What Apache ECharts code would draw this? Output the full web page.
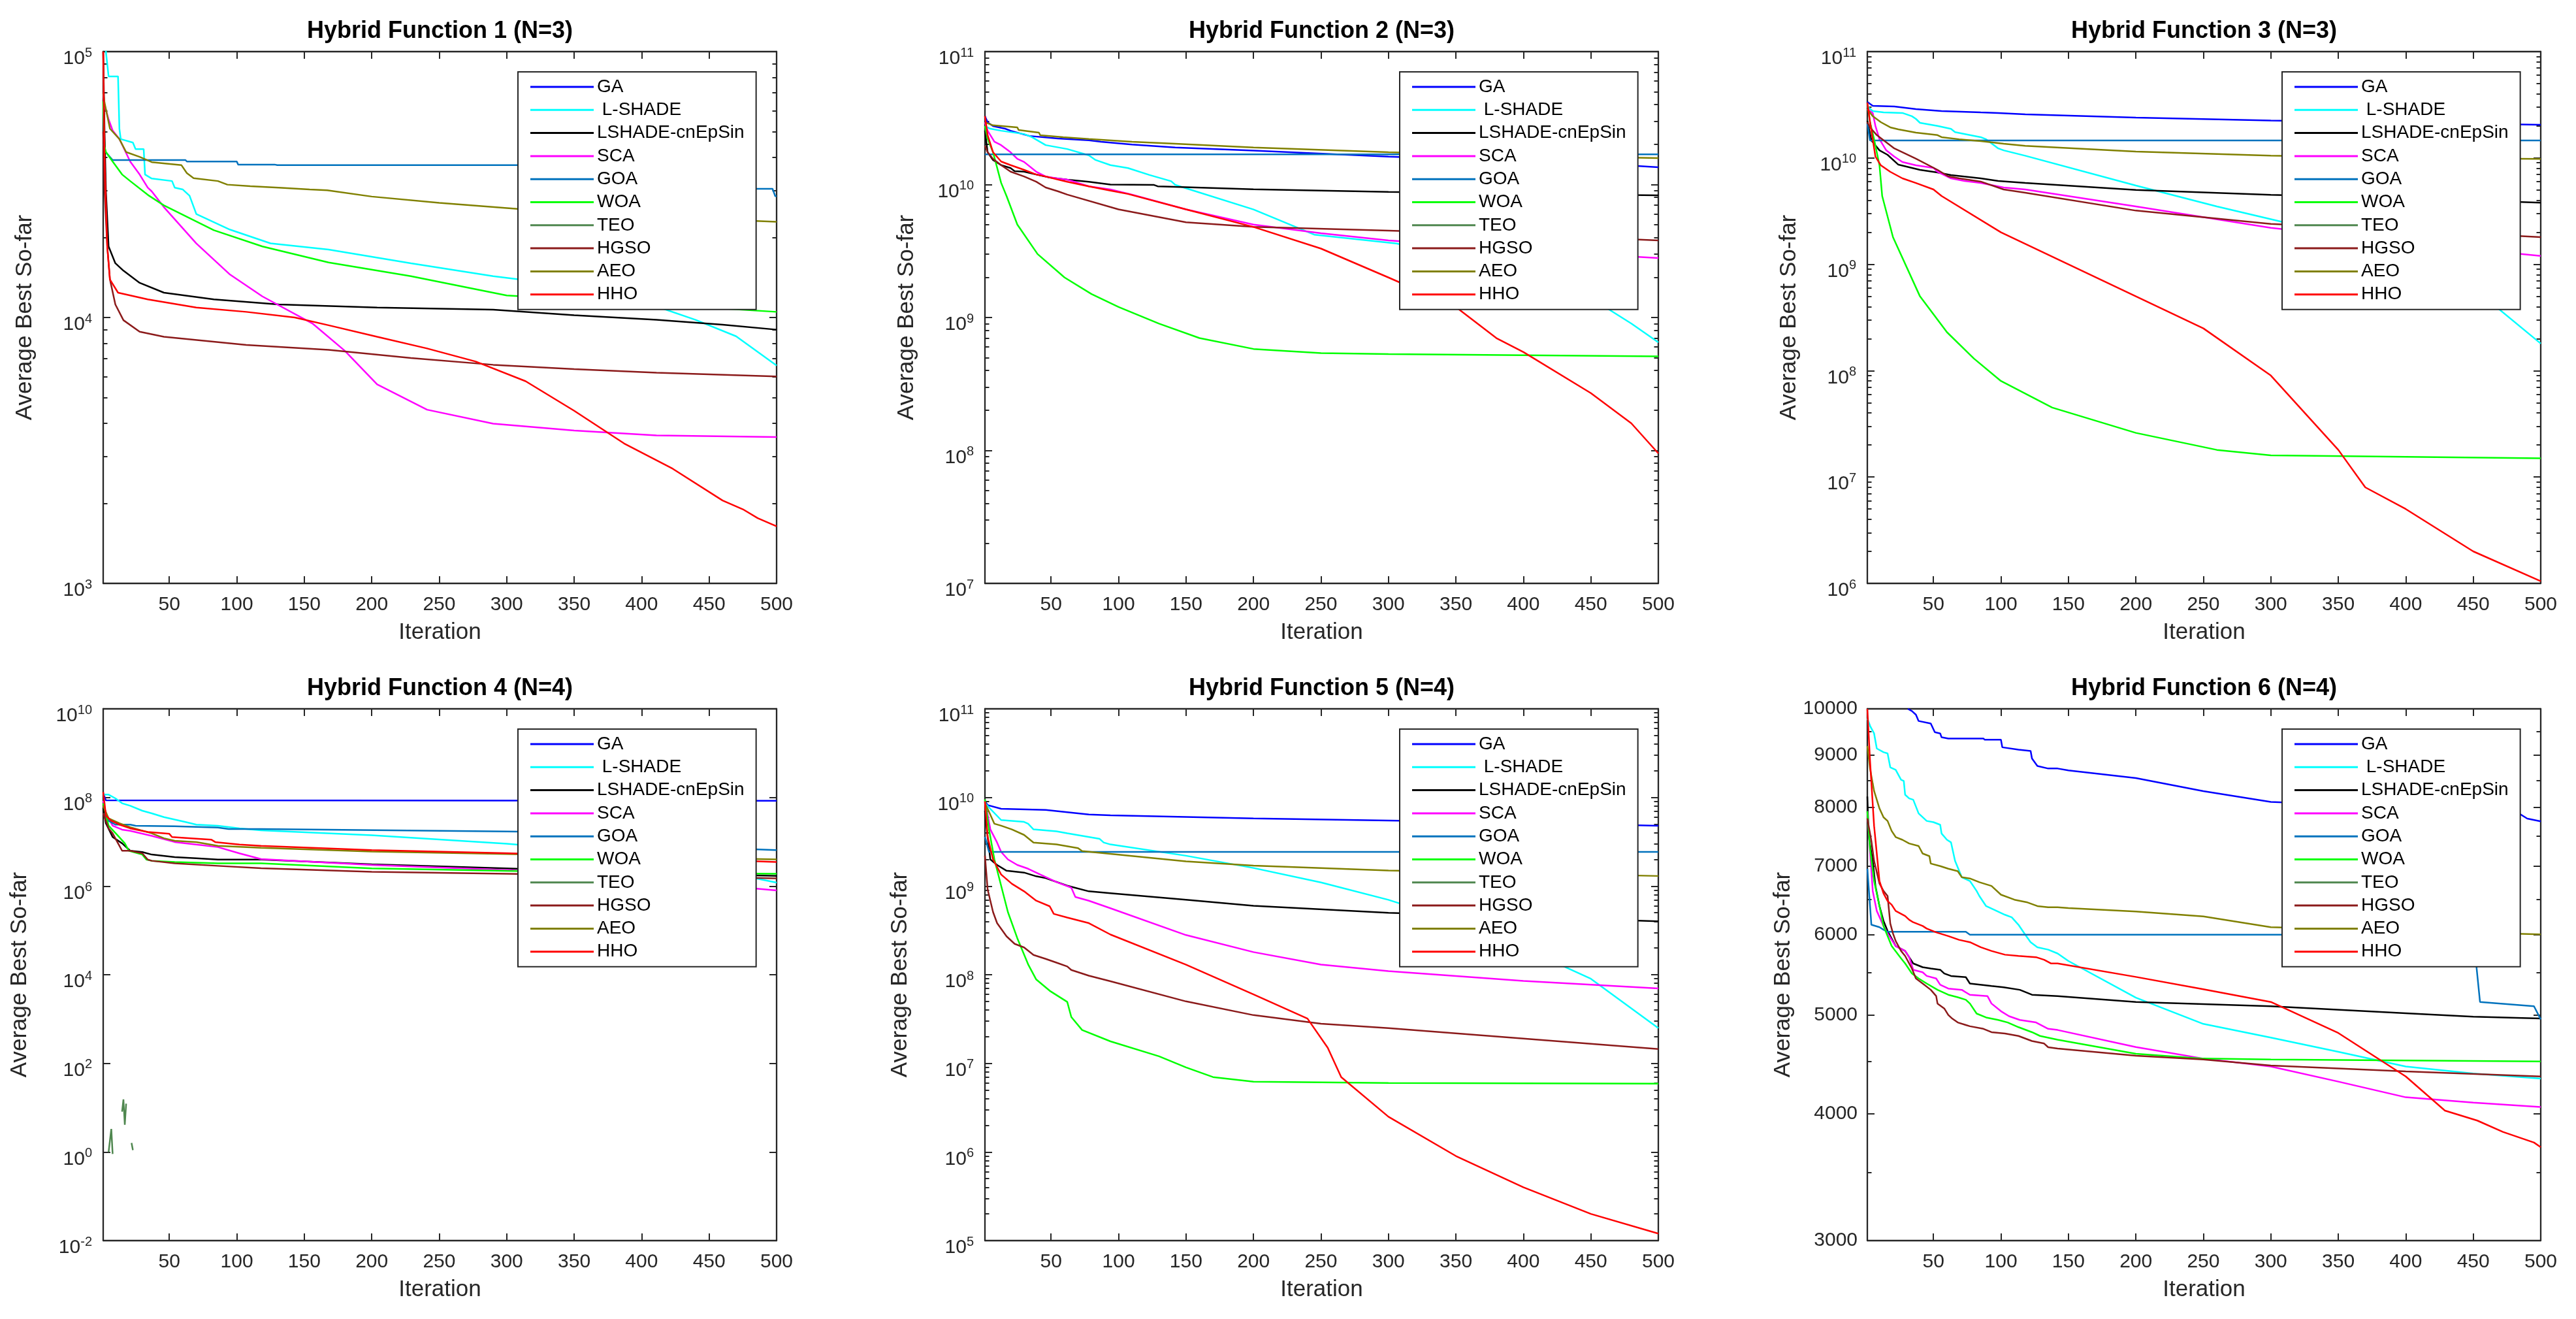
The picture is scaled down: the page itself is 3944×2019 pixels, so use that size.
<!DOCTYPE html>
<html><head><meta charset="utf-8">
<script src="https://cdn.jsdelivr.net/npm/echarts@6/dist/echarts.min.js"></script>
<style>html,body{margin:0;padding:0;background:#fff}#c{width:3944px;height:2019px}</style>
</head><body><div id="c"></div>
<script>
// ---------------- DATA ----------------
const seriesNames = ['GA', ' L-SHADE', 'LSHADE-cnEpSin', 'SCA', 'GOA', 'WOA', 'TEO', 'HGSO', 'AEO', 'HHO'];
const panelTitles = ['Hybrid Function 1 (N=3)', 'Hybrid Function 2 (N=3)', 'Hybrid Function 3 (N=3)',
                     'Hybrid Function 4 (N=4)', 'Hybrid Function 5 (N=4)', 'Hybrid Function 6 (N=4)'];
const xTicks = [50, 100, 150, 200, 250, 300, 350, 400, 450, 500];
const xName = 'Iteration';
const yName = 'Average Best So-far';
// y tick exponents (log panels) / plain tick values (panel 6)
const h1Exp = [3, 4, 5];
const h2Exp = [7, 8, 9, 10, 11];
const h3Exp = [6, 7, 8, 9, 10, 11];
const h4Exp = [-2, 0, 2, 4, 6, 8, 10];
const h5Exp = [5, 6, 7, 8, 9, 10, 11];
const h6Labels = [3000, 4000, 5000, 6000, 7000, 8000, 9000, 10000];
const h6Minor = [3500, 4500, 5500, 6500, 7500, 8500, 9500];

// Panel 1
const h1_GA = [];
const h1_LSHADE = [[1,1.3e5],[3,1e5],[5,8.07e4],[12,8.07e4],[13,5.13e4],[14,4.69e4],[23,4.55e4],[25,4.3e4],[31,4.3e4],[32,3.45e4],[37,3.33e4],[52,3.26e4],[54,3.08e4],[60,3.03e4],[65,2.87e4],[70,2.45e4],[95,2.14e4],[125,1.9e4],[168,1.8e4],[229,1.6e4],[290,1.43e4],[330,1.35e4],[400,1.15e4],[440,9.8e3],[470,8.5e3],[500,6.6e3]];
const h1_LSHADEcn = [[1,1e5],[2,5e4],[3,3e4],[5,1.85e4],[10,1.6e4],[16,1.5e4],[28,1.35e4],[46,1.24e4],[83,1.17e4],[131,1.12e4],[204,1.09e4],[290,1.07e4],[350,1.02e4],[411,9.8e3],[460,9.4e3],[500,9.0e3]];
const h1_SCA = [[1,7e4],[2,6.3e4],[5,5.56e4],[8,5.05e4],[13,4.69e4],[21,3.86e4],[28,3.45e4],[34,3.08e4],[37,2.98e4],[46,2.6e4],[70,1.9e4],[95,1.45e4],[119,1.2e4],[156,9.5e3],[180,7.5e3],[204,5.6e3],[241,4.5e3],[290,3.99e3],[350,3.76e3],[411,3.6e3],[500,3.55e3]];
const h1_GOA = [[1,4.5e4],[2,4.33e4],[3,4.18e4],[8,3.91e4],[62,3.91e4],[63,3.86e4],[100,3.86e4],[101,3.76e4],[128,3.76e4],[130,3.74e4],[420,3.74e4],[421,3.05e4],[497,3.05e4],[499,2.86e4],[500,2.86e4]];
const h1_WOA = [[1,6.5e4],[2,4.4e4],[3,4.19e4],[8,3.86e4],[15,3.45e4],[21,3.26e4],[35,2.87e4],[46,2.64e4],[83,2.13e4],[119,1.85e4],[168,1.61e4],[229,1.43e4],[300,1.21e4],[350,1.17e4],[411,1.12e4],[500,1.05e4]];
const h1_TEO = [];
const h1_HGSO = [[1,5e4],[2,3e4],[4,1.85e4],[6,1.39e4],[10,1.12e4],[16,9.77e3],[28,8.84e3],[46,8.46e3],[107,7.88e3],[168,7.56e3],[229,7.04e3],[290,6.64e3],[350,6.4e3],[411,6.2e3],[500,6.0e3]];
const h1_AEO = [[1,7e4],[2,6.43e4],[6,5.13e4],[13,4.69e4],[18,4.19e4],[28,4.02e4],[37,3.84e4],[59,3.74e4],[63,3.49e4],[68,3.34e4],[86,3.26e4],[93,3.16e4],[110,3.12e4],[131,3.08e4],[154,3.03e4],[167,3.01e4],[200,2.85e4],[250,2.7e4],[308,2.56e4],[400,2.4e4],[500,2.29e4]];
const h1_HHO = [[1,1e5],[2,4e4],[4,1.85e4],[6,1.39e4],[12,1.24e4],[34,1.17e4],[70,1.09e4],[107,1.05e4],[143,1.0e4],[168,9.35e3],[204,8.46e3],[241,7.65e3],[277,6.83e3],[314,5.76e3],[350,4.46e3],[387,3.36e3],[423,2.7e3],[460,2.05e3],[475,1.9e3],[486,1.76e3],[500,1.64e3]];

// Panel 2
const h2_GA = [[1,3.27e10],[3,2.94e10],[7,2.75e10],[16,2.63e10],[20,2.54e10],[34,2.32e10],[55,2.22e10],[78,2.15e10],[87,2.1e10],[110,2.0e10],[142,1.9e10],[200,1.8e10],[300,1.62e10],[400,1.5e10],[450,1.45e10],[500,1.35e10]];
const h2_LSHADE = [[1,2.75e10],[5,2.63e10],[13,2.54e10],[30,2.4e10],[36,2.27e10],[46,1.98e10],[62,1.85e10],[78,1.66e10],[83,1.53e10],[94,1.4e10],[107,1.33e10],[123,1.18e10],[139,1.06e10],[142,9.95e9],[200,6.5e9],[245,4.2e9],[306,3.6e9],[400,2.2e9],[450,1.4e9],[480,9e8],[500,6.5e8]];
const h2_LSHADEcn = [[1,2.54e10],[3,1.75e10],[7,1.53e10],[13,1.4e10],[20,1.33e10],[23,1.26e10],[30,1.25e10],[39,1.19e10],[49,1.13e10],[62,1.09e10],[78,1.05e10],[94,1.0e10],[126,9.95e9],[129,9.7e9],[142,9.6e9],[200,9.2e9],[300,8.8e9],[400,8.5e9],[500,8.3e9]];
const h2_SCA = [[1,2.94e10],[3,2.54e10],[8,2.1e10],[13,1.98e10],[20,1.75e10],[25,1.56e10],[30,1.48e10],[39,1.25e10],[46,1.15e10],[55,1.11e10],[62,1.09e10],[78,9.7e9],[94,9.2e9],[110,8.4e9],[150,6.5e9],[200,5e9],[250,4.3e9],[300,3.8e9],[350,3.5e9],[400,3.2e9],[500,2.8e9]];
const h2_GOA = [[1,1.69e10],[500,1.69e10]];
const h2_WOA = [[1,2.75e10],[3,2.2e10],[7,1.75e10],[13,1.03e10],[17,8.2e9],[25,5e9],[40,3e9],[60,2e9],[80,1.5e9],[100,1.2e9],[130,9e8],[160,7e8],[200,5.8e8],[250,5.4e8],[300,5.3e8],[400,5.2e8],[500,5.1e8]];
const h2_TEO = [];
const h2_HGSO = [[1,1.96e10],[3,1.75e10],[7,1.56e10],[13,1.4e10],[20,1.25e10],[30,1.15e10],[39,1.05e10],[46,9.5e9],[55,8.9e9],[62,8.4e9],[100,6.5e9],[150,5.2e9],[200,4.8e9],[300,4.5e9],[400,4.2e9],[500,3.8e9]];
const h2_AEO = [[1,2.94e10],[7,2.79e10],[25,2.69e10],[26,2.57e10],[41,2.46e10],[42,2.35e10],[59,2.27e10],[78,2.2e10],[110,2.1e10],[142,2.03e10],[200,1.9e10],[300,1.75e10],[400,1.65e10],[500,1.58e10]];
const h2_HHO = [[1,3.27e10],[3,2.35e10],[7,1.75e10],[13,1.49e10],[20,1.4e10],[30,1.29e10],[39,1.19e10],[46,1.15e10],[55,1.09e10],[62,1.05e10],[78,9.7e9],[94,9e9],[107,8.5e9],[150,6.5e9],[200,4.8e9],[250,3.3e9],[300,2e9],[350,1.2e9],[380,7e8],[400,5.5e8],[450,2.7e8],[480,1.6e8],[500,9.5e7]];

// Panel 3
const h3_GA = [[1,3.37e10],[5,3.09e10],[21,3.05e10],[37,2.88e10],[56,2.76e10],[85,2.68e10],[98,2.65e10],[118,2.57e10],[200,2.4e10],[300,2.25e10],[400,2.15e10],[500,2.05e10]];
const h3_LSHADE = [[1,3.05e10],[5,2.76e10],[13,2.68e10],[27,2.65e10],[34,2.47e10],[37,2.33e10],[40,2.14e10],[53,2.0e10],[63,1.88e10],[66,1.75e10],[85,1.57e10],[89,1.5e10],[98,1.23e10],[102,1.18e10],[118,1.05e10],[200,5.5e9],[260,3.5e9],[321,2.3e9],[400,1.2e9],[450,6e8],[500,1.8e8]];
const h3_LSHADEcn = [[1,2.23e10],[4,1.46e10],[10,1.18e10],[16,1.07e10],[24,8.65e9],[40,7.73e9],[53,7.31e9],[63,6.9e9],[85,6.43e9],[98,6.08e9],[118,5.82e9],[200,5e9],[300,4.5e9],[400,4.2e9],[500,3.8e9]];
const h3_SCA = [[1,2.88e10],[5,2.65e10],[7,2e10],[10,1.5e10],[15,1.18e10],[21,1.03e10],[27,9.16e9],[37,8.53e9],[50,8.07e9],[53,7.41e9],[63,6.43e9],[73,6.08e9],[85,5.82e9],[102,5.27e9],[118,5.06e9],[200,3.5e9],[300,2.2e9],[400,1.6e9],[500,1.2e9]];
const h3_GOA = [[1,2.1e10],[3,1.46e10],[500,1.46e10]];
const h3_WOA = [[1,3.32e10],[3,2.17e10],[6,1.5e10],[10,8.53e9],[12,4.39e9],[20,1.8e9],[40,5e8],[60,2.3e8],[80,1.3e8],[100,8e7],[138,4.5e7],[200,2.6e7],[260,1.8e7],[300,1.6e7],[400,1.55e7],[500,1.5e7]];
const h3_TEO = [];
const h3_HGSO = [[1,2.17e10],[3,1.94e10],[8,1.64e10],[21,1.23e10],[37,9.84e9],[53,7.73e9],[61,6.71e9],[69,6.43e9],[85,6e9],[102,5.06e9],[118,4.71e9],[200,3.2e9],[300,2.4e9],[400,2.1e9],[500,1.8e9]];
const h3_AEO = [[1,2.88e10],[5,2.47e10],[11,2.17e10],[18,1.94e10],[24,1.86e10],[37,1.73e10],[53,1.64e10],[56,1.57e10],[69,1.5e10],[85,1.44e10],[102,1.36e10],[118,1.3e10],[200,1.15e10],[300,1.05e10],[400,1.0e10],[500,9.8e9]];
const h3_HHO = [[1,3.32e10],[3,2.17e10],[5,1.5e10],[7,1.03e10],[11,8.53e9],[18,7.41e9],[27,6.43e9],[37,5.82e9],[50,5.06e9],[56,4.39e9],[100,2e9],[150,1.0e9],[200,5e8],[250,2.5e8],[300,9e7],[350,1.8e7],[370,8e6],[400,5e6],[450,2e6],[500,1.05e6]];

// Panel 4
const h4_GA = [[1,1.25e8],[3,8.6e7],[500,8.4e7]];
const h4_LSHADE = [[1,1.16e8],[5,1.16e8],[10,9.55e7],[15,7.38e7],[21,6.49e7],[30,5.01e7],[37,4.38e7],[46,3.61e7],[54,3.17e7],[62,2.79e7],[70,2.44e7],[86,2.3e7],[102,2e7],[118,1.81e7],[200,1.4e7],[300,9e6],[400,5e6],[500,1.2e6]];
const h4_LSHADEcn = [[1,5.69e7],[3,2.61e7],[8,1.28e7],[15,9.23e6],[21,6.27e6],[30,5.86e6],[37,5.14e6],[54,4.52e6],[70,4.24e6],[86,3.97e6],[118,3.97e6],[200,3.1e6],[300,2.5e6],[400,2e6],[500,1.7e6]];
const h4_SCA = [[1,8.4e7],[3,4.38e7],[8,2.3e7],[15,1.88e7],[21,1.77e7],[37,1.36e7],[54,9.86e6],[70,8.63e6],[86,7.59e6],[102,5.48e6],[118,4.06e6],[200,3e6],[300,2.3e6],[400,1.5e6],[500,8e5]];
const h4_GOA = [[1,4.38e7],[5,2.97e7],[10,2.44e7],[21,2.44e7],[25,2.3e7],[54,2.23e7],[86,2.09e7],[94,1.94e7],[118,1.94e7],[300,1.7e7],[450,1.5e7],[470,7e6],[500,6.5e6]];
const h4_WOA = [[1,7.38e7],[5,2.3e7],[12,1.36e7],[17,9.23e6],[20,6.27e6],[30,5.14e6],[33,3.97e6],[37,3.72e6],[54,3.48e6],[86,3.26e6],[118,3.26e6],[200,2.5e6],[300,2.2e6],[400,2e6],[500,1.9e6]];
const h4_TEO = [[5,1.0],[7,3.3],[8,0.9],[9,null],[15,8.1],[16,15.4],[17,4.1],[18,12.3],[19,null],[22,1.6],[23,1.1]];
const h4_HGSO = [[1,4.38e7],[5,2.01e7],[8,1.55e7],[12,9.23e6],[15,6.27e6],[21,6.27e6],[30,5.48e6],[34,3.97e6],[37,3.72e6],[54,3.26e6],[86,2.86e6],[118,2.52e6],[200,2.1e6],[300,1.9e6],[400,1.7e6],[500,1.5e6]];
const h4_AEO = [[1,6.49e7],[5,3.38e7],[13,2.61e7],[21,2.14e7],[37,1.55e7],[46,1.2e7],[54,1.05e7],[70,9.86e6],[86,8.09e6],[118,7.31e6],[200,6e6],[300,5.3e6],[400,4.6e6],[500,4e6]];
const h4_HHO = [[1,1.32e8],[2,7.38e7],[3,3.85e7],[7,2.97e7],[13,2.44e7],[21,2.01e7],[34,1.66e7],[50,1.51e7],[52,1.28e7],[66,1.2e7],[81,1.12e7],[84,9.86e6],[102,8.63e6],[118,8.09e6],[200,6.5e6],[300,5.5e6],[400,4.5e6],[500,3.5e6]];

// Panel 5
const h5_GA = [[1,9.0e9],[3,8.2e9],[13,7.45e9],[46,7.23e9],[78,6.43e9],[94,6.3e9],[200,5.8e9],[300,5.5e9],[400,5.2e9],[500,4.8e9]];
const h5_LSHADE = [[1,8.63e9],[5,7.45e9],[13,5.56e9],[30,5.3e9],[33,5.05e9],[37,4.36e9],[54,4.15e9],[62,3.95e9],[86,3.41e9],[89,3.1e9],[94,2.95e9],[150,2.2e9],[200,1.6e9],[250,1.1e9],[300,7e8],[350,4e8],[400,2e8],[450,9e7],[500,2.5e7]];
const h5_LSHADEcn = [[1,7.08e9],[3,3.59e9],[5,2e9],[10,1.73e9],[17,1.49e9],[30,1.42e9],[39,1.29e9],[46,1.23e9],[62,1.01e9],[78,8.73e8],[94,8.32e8],[150,7e8],[200,6e8],[300,5e8],[400,4.5e8],[500,4e8]];
const h5_SCA = [[1,9.04e9],[3,6.43e9],[5,4.36e9],[10,3.1e9],[13,2.43e9],[18,2e9],[25,1.73e9],[33,1.57e9],[42,1.35e9],[54,1.11e9],[65,9.6e8],[68,7.53e8],[78,6.84e8],[94,5.62e8],[150,2.8e8],[200,1.8e8],[250,1.3e8],[300,1.1e8],[400,8.5e7],[500,7e7]];
const h5_GOA = [[1,3.59e9],[4,2.43e9],[500,2.43e9]];
const h5_WOA = [[1,9.5e9],[4,4.36e9],[8,2e9],[13,1.01e9],[18,5.1e8],[25,2.58e8],[33,1.31e8],[39,8.83e7],[49,6.59e7],[62,4.93e7],[65,3.33e7],[73,2.38e7],[94,1.77e7],[130,1.2e7],[150,9e6],[170,7e6],[200,6.2e6],[300,6e6],[500,5.9e6]];
const h5_TEO = [];
const h5_HGSO = [[1,2.2e9],[3,9.16e8],[7,5.1e8],[10,3.82e8],[17,2.71e8],[23,2.23e8],[30,2.03e8],[37,1.67e8],[46,1.51e8],[54,1.37e8],[62,1.24e8],[65,1.13e8],[78,9.75e7],[94,8.43e7],[150,5e7],[200,3.5e7],[250,2.8e7],[300,2.5e7],[400,1.9e7],[500,1.45e7]];
const h5_AEO = [[1,8.63e9],[3,7.45e9],[8,5.05e9],[13,4.8e9],[21,4.36e9],[30,3.78e9],[37,3.1e9],[54,2.95e9],[70,2.68e9],[73,2.48e9],[94,2.31e9],[150,1.9e9],[200,1.7e9],[300,1.5e9],[400,1.4e9],[500,1.3e9]];
const h5_HHO = [[1,9.04e9],[3,3.59e9],[7,2e9],[13,1.35e9],[21,1.06e9],[30,8.73e8],[39,6.84e8],[49,5.92e8],[52,4.86e8],[62,4.42e8],[78,3.82e8],[94,2.84e8],[150,1.3e8],[200,6e7],[240,3.2e7],[255,1.5e7],[265,7e6],[300,2.5e6],[350,9e5],[400,4e5],[450,2e5],[500,1.2e5]];

// Panel 6
const h6_GA = [[31,10000],[34,9951],[37,9868],[39,9728],[48,9674],[51,9484],[55,9458],[56,9376],[61,9350],[87,9350],[88,9324],[100,9324],[101,9166],[113,9116],[122,9090],[123,8937],[127,8786],[135,8736],[142,8736],[150,8700],[200,8550],[250,8300],[300,8100],[400,8000],[480,7950],[490,7800],[500,7750]];
const h6_LSHADE = [[1,9784],[3,9622],[6,9458],[8,9141],[13,9065],[16,9039],[18,8760],[22,8710],[26,8517],[28,8493],[29,8232],[32,8164],[35,8140],[39,7891],[45,7758],[50,7737],[55,7691],[56,7540],[60,7434],[63,7391],[66,7087],[71,6830],[77,6772],[82,6620],[84,6546],[89,6398],[95,6345],[103,6273],[108,6237],[113,6133],[118,5997],[122,5896],[127,5829],[135,5797],[142,5747],[150,5650],[200,5200],[250,4900],[300,4750],[350,4600],[400,4450],[450,4380],[500,4330]];
const h6_LSHADEcn = [[1,8200],[2,7499],[5,7087],[7,6696],[10,6398],[13,6186],[16,6047],[19,5945],[22,5845],[29,5780],[32,5699],[35,5619],[42,5571],[48,5555],[55,5539],[58,5493],[63,5462],[74,5447],[77,5369],[93,5339],[102,5323],[114,5293],[123,5234],[142,5219],[200,5150],[300,5100],[400,5020],[450,4980],[500,4960]];
const h6_SCA = [[1,7933],[5,6620],[8,6328],[13,6116],[16,6013],[22,5845],[29,5780],[32,5699],[35,5539],[42,5508],[45,5462],[52,5431],[55,5354],[61,5308],[71,5293],[74,5263],[77,5234],[90,5219],[93,5131],[100,5043],[106,4986],[114,4944],[126,4916],[135,4846],[142,4833],[200,4650],[250,4530],[300,4450],[350,4300],[400,4150],[450,4100],[500,4060]];
const h6_GOA = [[1,6963],[4,6133],[10,6099],[13,6065],[16,6037],[74,6037],[77,5997],[450,5997],[455,5150],[495,5100],[500,4950]];
const h6_WOA = [[1,7933],[3,7290],[6,6772],[10,6398],[13,6116],[19,5845],[26,5683],[29,5619],[34,5493],[39,5431],[45,5369],[53,5293],[61,5234],[68,5205],[74,5175],[77,5131],[82,5016],[89,4972],[98,4944],[105,4916],[113,4864],[123,4809],[129,4768],[142,4727],[200,4580],[250,4530],[300,4520],[500,4500]];
const h6_TEO = [];
const h6_HGSO = [[1,7802],[4,7413],[6,7087],[10,6734],[13,6620],[16,6546],[18,6150],[20,6013],[22,5912],[26,5780],[29,5715],[34,5555],[37,5431],[42,5369],[48,5293],[52,5219],[53,5131],[58,5074],[61,5000],[64,4958],[68,4916],[74,4888],[77,4874],[87,4846],[93,4809],[103,4795],[113,4768],[123,4714],[132,4687],[135,4648],[142,4634],[200,4560],[250,4520],[300,4460],[400,4400],[500,4350]];
const h6_AEO = [[1,9193],[3,8736],[5,8444],[6,8303],[10,7980],[13,7823],[16,7758],[19,7585],[22,7480],[27,7434],[32,7372],[39,7330],[42,7206],[47,7164],[48,7044],[55,7004],[61,6963],[68,6924],[71,6830],[77,6811],[84,6754],[93,6696],[100,6565],[110,6491],[119,6455],[127,6398],[135,6380],[142,6380],[150,6370],[200,6320],[250,6250],[300,6100],[400,6050],[500,6000]];
const h6_HHO = [[1,10000],[3,8886],[6,7672],[10,6772],[13,6584],[16,6473],[19,6418],[22,6328],[29,6256],[32,6203],[35,6168],[42,6116],[45,6080],[52,6029],[61,5978],[69,5927],[77,5896],[85,5829],[93,5780],[103,5731],[113,5715],[126,5699],[132,5666],[137,5619],[142,5619],[200,5450],[250,5300],[300,5150],[350,4800],[400,4350],[429,4027],[453,3937],[472,3837],[495,3746],[500,3707]];

// ---------------- STYLE / LAYOUT ----------------
const seriesColors = ['#0000FF', '#00FFFF', '#000000', '#FF00FF', '#0072BD', '#00FF00', '#4F874F', '#8B1A1A', '#808000', '#FF0000'];
const FONT = '"Liberation Sans", Arial, Helvetica, sans-serif';
const AX = '#262626';
const gridLefts = [158, 1508, 2859];
const gridTops = [79, 1085];
const GW = 1031, GH = 814;
const TICK_FS = 30, NAME_FS = 35;

function decadeMinor(lo, hi) {
  const out = [];
  for (let n = lo; n < hi; n++) for (let k = 2; k <= 9; k++) out.push(Math.log10(k * Math.pow(10, n)));
  return out;
}
const log10 = v => Math.log10(v);

const panels = [
  { yMin: 1e3, yMax: 1e5, major: h1Exp, minor: decadeMinor(3, 5), exp: true, nameGap: 102,
    data: [h1_GA, h1_LSHADE, h1_LSHADEcn, h1_SCA, h1_GOA, h1_WOA, h1_TEO, h1_HGSO, h1_AEO, h1_HHO] },
  { yMin: 1e7, yMax: 1e11, major: h2Exp, minor: decadeMinor(7, 11), exp: true, nameGap: 102,
    data: [h2_GA, h2_LSHADE, h2_LSHADEcn, h2_SCA, h2_GOA, h2_WOA, h2_TEO, h2_HGSO, h2_AEO, h2_HHO] },
  { yMin: 1e6, yMax: 1e11, major: h3Exp, minor: decadeMinor(6, 11), exp: true, nameGap: 102,
    data: [h3_GA, h3_LSHADE, h3_LSHADEcn, h3_SCA, h3_GOA, h3_WOA, h3_TEO, h3_HGSO, h3_AEO, h3_HHO] },
  { yMin: 1e-2, yMax: 1e10, major: h4Exp, minor: [], exp: true, nameGap: 110,
    data: [h4_GA, h4_LSHADE, h4_LSHADEcn, h4_SCA, h4_GOA, h4_WOA, h4_TEO, h4_HGSO, h4_AEO, h4_HHO] },
  { yMin: 1e5, yMax: 1e11, major: h5Exp, minor: decadeMinor(5, 11), exp: true, nameGap: 112,
    data: [h5_GA, h5_LSHADE, h5_LSHADEcn, h5_SCA, h5_GOA, h5_WOA, h5_TEO, h5_HGSO, h5_AEO, h5_HHO] },
  { yMin: 3000, yMax: 10000, major: h6Labels.map(log10), minor: h6Minor.map(log10), exp: false, nameGap: 111,
    data: [h6_GA, h6_LSHADE, h6_LSHADEcn, h6_SCA, h6_GOA, h6_WOA, h6_TEO, h6_HGSO, h6_AEO, h6_HHO] }
];

const grids = [], xAxes = [], yAxes = [], series = [], titles = [], legends = [];
const axisLine = { show: true, onZero: false, lineStyle: { color: AX, width: 2.3 } };

panels.forEach((p, i) => {
  const gl = gridLefts[i % 3], gt = gridTops[Math.floor(i / 3)];
  grids.push({ left: gl, top: gt, width: GW, height: GH, containLabel: false, outerBoundsMode: 'none', show: false });
  titles.push({ text: panelTitles[i], left: gl + GW / 2, top: gt - 49, textAlign: 'center', padding: 0,
    textStyle: { fontFamily: FONT, fontSize: 36, fontWeight: 'bold', color: '#000', lineHeight: 36 } });
  legends.push({ data: seriesNames, orient: 'vertical', left: gl + 635, top: gt + 31,
    icon: 'rect', itemWidth: 97, itemHeight: 3, itemGap: 7.3, padding: [9, 18, 9, 19],
    backgroundColor: '#fff', borderColor: AX, borderWidth: 2, borderRadius: 0, selectedMode: false,
    textStyle: { fontFamily: FONT, fontSize: 28, lineHeight: 28, color: '#000' } });
  // x axes
  xAxes.push({ gridIndex: i, type: 'value', min: 1, max: 500, position: 'bottom', axisLine,
    axisTick: { show: true, inside: true, length: 11, customValues: xTicks, lineStyle: { color: AX, width: 2 } },
    axisLabel: { show: true, customValues: xTicks, margin: 18, fontSize: TICK_FS, fontFamily: FONT, color: AX },
    splitLine: { show: false }, name: xName, nameLocation: 'middle', nameGap: 58,
    nameTextStyle: { fontSize: NAME_FS, lineHeight: NAME_FS, fontFamily: FONT, color: AX } });
  xAxes.push({ gridIndex: i, type: 'value', min: 1, max: 500, position: 'top', axisLine,
    axisTick: { show: true, inside: true, length: 11, customValues: xTicks, lineStyle: { color: AX, width: 2 } },
    axisLabel: { show: false }, splitLine: { show: false } });
  // y axes: 0 = log data axis (hidden), 1 = left major, 2 = left minor, 3 = right major, 4 = right minor
  const lmin = Math.log10(p.yMin), lmax = Math.log10(p.yMax);
  yAxes.push({ gridIndex: i, type: 'log', logBase: 10, min: p.yMin, max: p.yMax, show: false, splitLine: { show: false } });
  const labelCfg = p.exp ? {
      show: true, customValues: p.major, margin: 17, padding: [18, 0, 0, 0],
      formatter: v => '{b|10}{s|' + Math.round(v) + '}',
      rich: { b: { fontSize: TICK_FS, lineHeight: 34, verticalAlign: 'bottom', fontFamily: FONT, color: AX },
              s: { fontSize: 20, lineHeight: 20, verticalAlign: 'top', fontFamily: FONT, color: AX } } }
    : { show: true, customValues: p.major, margin: 15, padding: [6, 0, 0, 0], fontSize: TICK_FS, fontFamily: FONT, color: AX,
        formatter: v => String(Math.round(Math.pow(10, v))) };
  yAxes.push({ gridIndex: i, type: 'value', min: lmin, max: lmax, position: 'left', axisLine,
    axisTick: { show: true, inside: true, length: 11, customValues: p.major, lineStyle: { color: AX, width: 2 } },
    axisLabel: labelCfg, splitLine: { show: false },
    name: yName, nameLocation: 'middle', nameRotate: 90, nameGap: p.nameGap,
    nameTextStyle: { fontSize: NAME_FS, lineHeight: NAME_FS, fontFamily: FONT, color: AX } });
  yAxes.push({ gridIndex: i, type: 'value', min: lmin, max: lmax, position: 'left', axisLine: { show: false },
    axisTick: { show: p.minor.length > 0, inside: true, length: 6.5, customValues: p.minor.length ? p.minor : [lmin], lineStyle: { color: AX, width: 2 } },
    axisLabel: { show: false }, splitLine: { show: false } });
  yAxes.push({ gridIndex: i, type: 'value', min: lmin, max: lmax, position: 'right', axisLine,
    axisTick: { show: true, inside: true, length: 11, customValues: p.major, lineStyle: { color: AX, width: 2 } },
    axisLabel: { show: false }, splitLine: { show: false } });
  yAxes.push({ gridIndex: i, type: 'value', min: lmin, max: lmax, position: 'right', axisLine: { show: false },
    axisTick: { show: p.minor.length > 0, inside: true, length: 6.5, customValues: p.minor.length ? p.minor : [lmin], lineStyle: { color: AX, width: 2 } },
    axisLabel: { show: false }, splitLine: { show: false } });
  // series
  p.data.forEach((d, k) => {
    series.push({ type: 'line', name: seriesNames[k], xAxisIndex: i * 2, yAxisIndex: i * 5,
      data: d, showSymbol: false, symbol: 'none', connectNulls: false, clip: true,
      itemStyle: { color: seriesColors[k] }, lineStyle: { color: seriesColors[k], width: 2.5 },
      emphasis: { disabled: true }, silent: true, animation: false });
  });
});

const chart = echarts.init(document.getElementById('c'), null, { renderer: 'canvas' });
chart.setOption({
  backgroundColor: '#fff', animation: false,
  title: titles, legend: legends, grid: grids, xAxis: xAxes, yAxis: yAxes, series: series
});
</script></body></html>
